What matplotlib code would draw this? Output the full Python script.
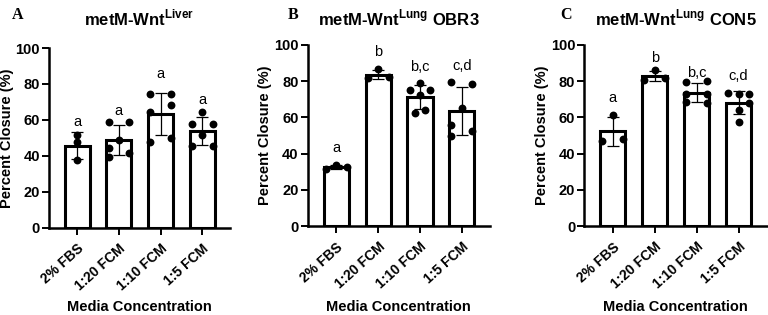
import numpy as np
import matplotlib.pyplot as plt
import matplotlib.transforms as mtrans

plt.rcParams['font.family'] = ['Liberation Sans', 'DejaVu Sans']
plt.rcParams['mathtext.fontset'] = 'custom'
plt.rcParams['mathtext.rm'] = 'Liberation Sans:bold'
plt.rcParams['mathtext.bf'] = 'Liberation Sans:bold'

groups = ['2% FBS', '1:20 FCM', '1:10 FCM', '1:5 FCM']

# percent closure, individual wells
liver_pts = [[51.8, 47.6, 37.6],
             [58.9, 58.9, 48.7, 44.4, 41.7, 39.4],
             [74.1, 74.1, 68.1, 64.4, 50.0, 47.6],
             [64.4, 57.9, 57.9, 51.3, 45.4, 45.4]]
obr3_pts = [[31.7, 33.9, 32.6],
            [86.5, 82.0, 82.5],
            [79.0, 75.4, 75.0, 72.1, 62.3, 64.1],
            [79.6, 78.7, 65.4, 55.7, 52.6, 49.6]]
con5_pts = [[61.4, 47.2, 48.1],
            [86.0, 80.5, 81.8],
            [79.6, 79.9, 72.7, 73.2, 68.5, 68.1],
            [73.6, 72.7, 72.7, 68.1, 64.1, 57.2]]

# horizontal spread of the dots (in units of dot spacing)
liver_jit = [[0, 0, 0], [-1, 1, 0, -1, 1, -1], [-1, 1, 1, -1, 1, -1], [0, -1, 1, 0, -1, 1]]
obr3_jit = [[-1, 0, 1], [0, -1, 1], [0, -1, 1, 0, -0.5, 0.5], [-1, 1, 0, -1, 1, -1]]
con5_jit = [[0, -1, 1], [0, -1, 1], [-1, 1, -1, 1, -1, 1], [-1, 0, 1, 1, 0, 0]]

# significance letters and where they sit
liver_sig = ['a', 'a', 'a', 'a']
liver_sig_y = [58.7, 64.8, 85.7, 71.3]
obr3_sig = ['a', 'b', 'b,c', 'c,d']
obr3_sig_y = [43.0, 96.3, 88.0, 88.5]
con5_sig = ['a', 'b', 'b,c', 'c,d']
con5_sig_y = [70.9, 92.7, 84.5, 83.0]

fig = plt.figure(figsize=(7.68, 3.15), dpi=100)


def draw_panel(rect, pts, jit, sig, sig_y, title, letter, letter_x):
    ax = fig.add_axes(rect)
    x = np.arange(len(groups))
    means = [np.mean(p) for p in pts]
    sds = [np.std(p, ddof=1) for p in pts]
    ax.bar(x, means, width=0.6, color='white', edgecolor='black', linewidth=2.2, zorder=2)
    ax.errorbar(x, means, yerr=sds, fmt='none', ecolor='black', elinewidth=0.9,
                capsize=4.3, capthick=0.9, zorder=3)
    for i, p in enumerate(pts):
        xs = i + 0.25 * np.array(jit[i])
        ax.scatter(xs, p, s=32, color='black', zorder=4, linewidths=0)
        ax.text(i, sig_y[i], sig[i], ha='center', va='center', fontsize=10.5)

    ax.set_xlim(-0.68, 3.67)
    ax.set_ylim(0, 100)
    ax.spines['top'].set_visible(False)
    ax.spines['right'].set_visible(False)
    ax.spines['left'].set_linewidth(1.8)
    ax.spines['bottom'].set_linewidth(1.8)
    ax.set_yticks([0, 20, 40, 60, 80, 100])
    ax.set_xticks(x)
    ax.set_xticklabels(groups, rotation=42, ha='right', va='top', rotation_mode='anchor',
                       fontweight='bold', fontsize=10)
    shift = mtrans.ScaledTranslation(3 / 100, 0, fig.dpi_scale_trans)
    for lab in ax.get_xticklabels():
        lab.set_transform(lab.get_transform() + shift)
    for lab in ax.get_yticklabels():
        lab.set_fontweight('bold')
    ax.tick_params(axis='both', length=5, width=1.4)
    ax.tick_params(axis='y', pad=1.5, labelsize=10.5)
    ax.tick_params(axis='x', pad=5)
    ax.set_ylabel('Percent Closure (%)', fontsize=10.5, fontweight='bold', va='center')
    ax.yaxis.set_label_coords(-0.232, 0.5)
    ax.set_xlabel('Media Concentration', fontsize=10.5, fontweight='bold', va='center')
    ax.xaxis.set_label_coords(0.5, -0.445)

    cx = rect[0] + rect[2] / 2
    fig.text(cx, 1 - 18 / 315, title, ha='center', va='center', fontsize=12, fontweight='bold')
    fig.text(letter_x, 1 - 15 / 315, letter, ha='left', va='center', fontsize=11.5,
             fontweight='bold', family='Liberation Serif')
    return ax


draw_panel([49 / 768, 1 - 227.5 / 315, 181 / 768, 179.5 / 315],
           liver_pts, liver_jit, liver_sig, liver_sig_y,
           r'metM-Wnt$^{\mathbf{Liver}}$', 'A', 12 / 768)
draw_panel([307.7 / 768, 1 - 226 / 315, 182.3 / 768, 181 / 315],
           obr3_pts, obr3_jit, obr3_sig, obr3_sig_y,
           r'metM-Wnt$^{\mathbf{Lung}}$ OBR3', 'B', 288 / 768)
draw_panel([584.3 / 768, 1 - 226 / 315, 182.3 / 768, 181 / 315],
           con5_pts, con5_jit, con5_sig, con5_sig_y,
           r'metM-Wnt$^{\mathbf{Lung}}$ CON5', 'C', 560 / 768)

fig.savefig('out.png', dpi=100)
